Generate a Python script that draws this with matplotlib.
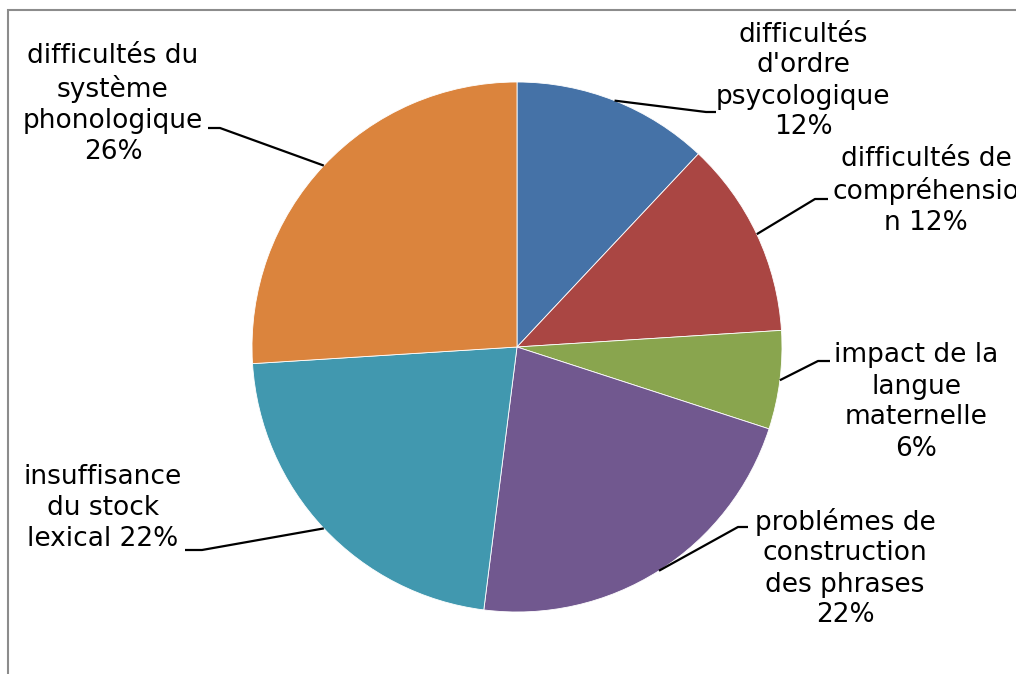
import numpy as np
import matplotlib.pyplot as plt
from matplotlib.patches import Rectangle

# Data
labels = [
    "difficultés\nd'ordre\npsycologique\n{}%",
    "difficultés de\ncompréhensio\nn {}%",
    "impact de la\nlangue\nmaternelle\n{}%",
    "problémes de\nconstruction\ndes phrases\n{}%",
    "insuffisance\ndu stock\nlexical {}%",
    "difficultés du\nsystème\nphonologique\n{}%",
]
values = [12, 12, 6, 22, 22, 26]
colors = ['#4572A7', '#AA4643', '#89A54E', '#71588F', '#4198AF', '#DB843D']

# Layout (pixel positions, y measured from top)
W, H = 1016, 674
cx, cy, r = 517, 347, 265
label_pos = [(803, 81), (926, 191), (916, 402), (845, 568), (103, 508), (113, 104)]
elbows = [((706, 112), (716, 112)),
          ((815, 199), (828, 199)),
          ((818, 361), (830, 361)),
          ((738, 527), (748, 527)),
          ((202, 550), (185, 550)),
          ((220, 128), (208, 128))]

fig = plt.figure(figsize=(W / 100, H / 100), dpi=100)
ax = fig.add_axes([0, 0, 1, 1])

wedges, _ = ax.pie(values, colors=colors, startangle=90, counterclock=False,
                   center=(cx, H - cy), radius=r,
                   wedgeprops=dict(edgecolor='white', linewidth=0.6))
ax.set_xlim(0, W)
ax.set_ylim(0, H)
ax.set_aspect('equal')
ax.axis('off')

for w, v, lab, (lx, ly), (e1, e2) in zip(wedges, values, labels, label_pos, elbows):
    mid = np.deg2rad((w.theta1 + w.theta2) / 2)
    px = cx + r * np.cos(mid)
    py = (H - cy) + r * np.sin(mid)
    ax.plot([px, e1[0], e2[0]], [py, H - e1[1], H - e2[1]], color='black', lw=1.6,
            solid_capstyle='butt')
    ax.text(lx, H - ly, lab.format(v), ha='center', va='center', fontsize=19,
            linespacing=1.25, family='DejaVu Sans', clip_on=False)

# chart area border
fig.patches.append(Rectangle((8 / W, -0.1), 1.2, (H - 10) / H + 0.1,
                             transform=fig.transFigure, fill=False,
                             edgecolor='#8c8c8c', lw=1.5))

plt.savefig('out.png', dpi=100)
